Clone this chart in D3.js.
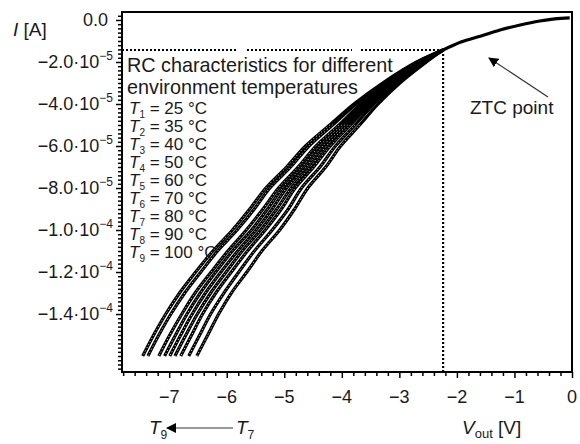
<!DOCTYPE html>
<html><head><meta charset="utf-8">
<script src="https://cdn.jsdelivr.net/npm/d3@7"></script>
<style>
body{margin:0;background:#fff}
text{font-family:"Liberation Sans",Arial,Helvetica,sans-serif;fill:#1a1a1a}
</style>
</head><body>
<svg id="c" width="580" height="444"></svg>
<script>
// ---- data (I in units of 1e-5 A, V in volts) ----
const iLevels = [-1.43,-2,-3,-4,-5,-6,-7,-8,-9,-10,-11,-12,-13,-14,-15,-16];
const vT1 = [-2.24,-2.53,-2.99,-3.37,-3.69,-4.02,-4.28,-4.59,-4.82,-5.08,-5.39,-5.65,-5.92,-6.14,-6.33,-6.52];
const vT2 = [-2.24,-2.55,-3.04,-3.44,-3.77,-4.11,-4.38,-4.70,-4.93,-5.21,-5.52,-5.79,-6.05,-6.28,-6.47,-6.66];
const vT3 = [-2.24,-2.58,-3.08,-3.50,-3.85,-4.20,-4.49,-4.81,-5.05,-5.33,-5.64,-5.92,-6.19,-6.42,-6.61,-6.80];
const vT4 = [-2.24,-2.60,-3.11,-3.54,-3.90,-4.27,-4.55,-4.88,-5.13,-5.41,-5.73,-6.01,-6.28,-6.51,-6.71,-6.90];
const vT5 = [-2.24,-2.61,-3.14,-3.58,-3.95,-4.33,-4.62,-4.96,-5.21,-5.49,-5.81,-6.10,-6.37,-6.60,-6.80,-6.99];
const vT6 = [-2.24,-2.63,-3.17,-3.62,-4.00,-4.39,-4.69,-5.03,-5.29,-5.57,-5.90,-6.19,-6.46,-6.69,-6.89,-7.08];
const vT7 = [-2.24,-2.65,-3.20,-3.67,-4.05,-4.45,-4.76,-5.10,-5.37,-5.66,-5.98,-6.27,-6.55,-6.78,-6.99,-7.18];
const vT8 = [-2.24,-2.68,-3.26,-3.75,-4.16,-4.57,-4.89,-5.25,-5.52,-5.82,-6.16,-6.45,-6.73,-6.97,-7.18,-7.37];
const vT9 = [-2.24,-2.70,-3.29,-3.79,-4.21,-4.63,-4.96,-5.32,-5.60,-5.90,-6.24,-6.54,-6.82,-7.06,-7.27,-7.46];
// common part above the ZTC point
const commonV = [-2.24,-1.93,-1.58,-1.25,-0.90,-0.56,-0.30,-0.04];
const commonI = [-1.43,-1.05,-0.76,-0.48,-0.24,-0.05,0.05,0.10];
const ztcV = -2.24, ztcI = -1.43;

const tempIdx = ["1","2","3","4","5","6","7","8","9"];
const tempC = ["25","35","40","50","60","70","80","90","100"];
const xMajor = [-7,-6,-5,-4,-3,-2,-1,0];
const xLabels = ["−7","−6","−5","−4","−3","−2","−1","0"];
const yMajor = [0,-2,-4,-6,-8,-10,-12,-14];
const yMant = ["0.0","−2.0·10","−4.0·10","−6.0·10","−8.0·10","−1.0·10","−1.2·10","−1.4·10"];
const yExp = ["","−5","−5","−5","−5","−4","−4","−4"];

const svg = d3.select("#c");
const L=122, R=572, T=12, B=372;
const x = d3.scaleLinear().domain([-7.82,0]).range([L,R]);
const y = d3.scaleLinear().domain([-16.76,0.38]).range([B,T]);

// minor tick values
const xMinor = d3.range(-39,1).map(k=>k*0.2).filter(v=>!xMajor.some(m=>Math.abs(m-v)<1e-6));
const yMinor = d3.range(-83,2).map(k=>k*0.2).filter(v=>!yMajor.some(m=>Math.abs(m-v)<1e-6));

function styleAxis(g){g.select(".domain").remove();g.selectAll("line").attr("stroke","#000").attr("stroke-width",1.5);}
svg.append("g").attr("transform",`translate(0,${B})`).call(d3.axisBottom(x).tickValues(xMinor).tickSize(4).tickFormat("")).call(styleAxis);
svg.append("g").attr("transform",`translate(0,${B})`).call(d3.axisBottom(x).tickValues(xMajor).tickSize(6).tickFormat("")).call(styleAxis);
svg.append("g").attr("transform",`translate(${L},0)`).call(d3.axisLeft(y).tickValues(yMinor).tickSize(4).tickFormat("")).call(styleAxis);
svg.append("g").attr("transform",`translate(${L},0)`).call(d3.axisLeft(y).tickValues(yMajor).tickSize(6).tickFormat("")).call(styleAxis);

// tick labels
svg.append("g").selectAll("text").data(xMajor).join("text")
  .attr("x",d=>x(d)).attr("y",403).attr("text-anchor","middle").attr("font-size",18)
  .text((d,i)=>xLabels[i]);
const yl = svg.append("g").selectAll("text").data(yMajor).join("text")
  .attr("x",(d,i)=>yExp[i] ? 113 : 108).attr("y",d=>y(d)+6).attr("text-anchor","end").attr("font-size",18);
yl.append("tspan").text((d,i)=>yMant[i]);
yl.append("tspan").attr("font-size",12).attr("dy",-8).text((d,i)=>yExp[i]);

// frame
svg.append("rect").attr("x",L).attr("y",T).attr("width",R-L).attr("height",B-T)
  .attr("fill","none").attr("stroke","#000").attr("stroke-width",2);

// dotted ZTC guides
const hsegs = [[L,238],[247,352],[361,x(ztcV)]];
hsegs.forEach(s=>{svg.append("line").attr("x1",s[0]).attr("x2",s[1]).attr("y1",y(ztcI)).attr("y2",y(ztcI)).attr("stroke","#000").attr("stroke-width",2).attr("stroke-dasharray","2 2");});
svg.append("line").attr("x1",x(ztcV)).attr("x2",x(ztcV)).attr("y1",y(ztcI)).attr("y2",B)
  .attr("stroke","#000").attr("stroke-width",2.2).attr("stroke-dasharray","2 2");

// curves
const line = d3.line().x(d=>x(d[0])).y(d=>y(d[1])).curve(d3.curveCatmullRom.alpha(0.5));
const series = [vT1,vT2,vT3,vT4,vT5,vT6,vT7,vT8,vT9];
const cg = svg.append("g");
series.forEach(vs=>{
  const pts = vs.map((v,i)=>[v,iLevels[i]]);
  cg.append("path").attr("d",line(pts)).attr("fill","none").attr("stroke","#000").attr("stroke-width",3.2);
});
series.forEach(vs=>{
  const pts = vs.map((v,i)=>[v,iLevels[i]]).slice(4);
  cg.append("path").attr("d",line(pts)).attr("fill","none").attr("stroke","#fff").attr("stroke-width",0.9).attr("stroke-dasharray","1 2.4");
});
cg.append("path").attr("d",line(commonV.map((v,i)=>[v,commonI[i]]))).attr("fill","none").attr("stroke","#000").attr("stroke-width",3.2);

// annotation text
svg.append("text").attr("x",127).attr("y",72).attr("font-size",19.8).text("RC characteristics for different");
svg.append("text").attr("x",127).attr("y",94).attr("font-size",19.8).text("environment temperatures");
const lg = svg.append("g").selectAll("text").data(tempIdx).join("text")
  .attr("x",129).attr("y",(d,i)=>114+i*18).attr("font-size",17);
lg.append("tspan").attr("font-style","italic").text("T");
lg.append("tspan").attr("font-size",10).attr("dy",4).text(d=>d);
lg.append("tspan").attr("dy",-4).text((d,i)=>" = "+tempC[i]+" °C");

// ZTC point label and arrow
svg.append("defs").append("marker").attr("id","ah").attr("viewBox","0 0 10 10").attr("refX",9).attr("refY",5)
  .attr("markerWidth",10).attr("markerHeight",10).attr("markerUnits","userSpaceOnUse").attr("orient","auto")
  .append("path").attr("d","M0,0 L10,5 L0,10 Z").attr("fill","#000");
svg.append("line").attr("x1",548).attr("y1",97).attr("x2",489).attr("y2",58).attr("stroke","#333").attr("stroke-width",1.2).attr("marker-end","url(#ah)");
svg.append("text").attr("x",470).attr("y",114).attr("font-size",19).text("ZTC point");

// axis titles
const yt = svg.append("text").attr("x",13).attr("y",36).attr("font-size",19);
yt.append("tspan").attr("font-style","italic").text("I");
yt.append("tspan").text(" [A]");
const xt = svg.append("text").attr("x",462).attr("y",434).attr("font-size",19);
xt.append("tspan").attr("font-style","italic").text("V");
xt.append("tspan").attr("font-size",13).attr("dy",4).text("out");
xt.append("tspan").attr("dy",-4).text(" [V]");

// T9 <- T7 arrow
const t9 = svg.append("text").attr("x",149).attr("y",434).attr("font-size",19);
t9.append("tspan").attr("font-style","italic").text("T");
t9.append("tspan").attr("font-size",12).attr("dy",5).text("9");
svg.append("line").attr("x1",233).attr("y1",428).attr("x2",167).attr("y2",428).attr("stroke","#333").attr("stroke-width",1.2).attr("marker-end","url(#ah)");
const t7 = svg.append("text").attr("x",236).attr("y",434).attr("font-size",19);
t7.append("tspan").attr("font-style","italic").text("T");
t7.append("tspan").attr("font-size",12).attr("dy",5).text("7");
</script>
</body></html>
